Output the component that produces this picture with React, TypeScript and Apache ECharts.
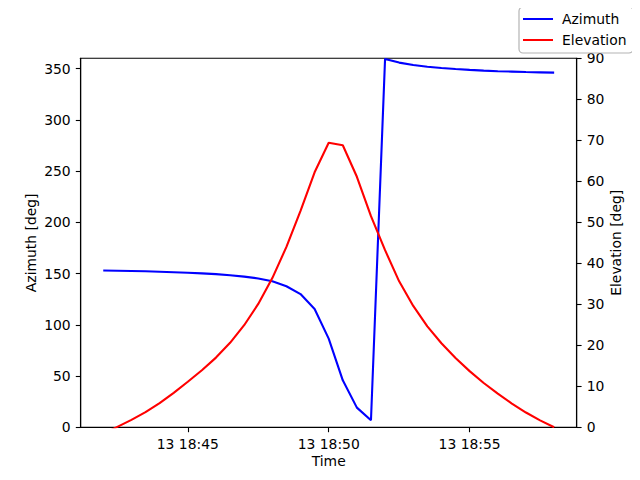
import React, { useEffect, useRef } from 'react';
import * as echarts from 'echarts';

// sample times (day 13), every 30 s
const times = [
  '18:42:00', '18:42:30', '18:43:00', '18:43:30', '18:44:00', '18:44:30',
  '18:45:00', '18:45:30', '18:46:00', '18:46:30', '18:47:00', '18:47:30',
  '18:48:00', '18:48:30', '18:49:00', '18:49:30', '18:50:00', '18:50:30',
  '18:51:00', '18:51:30', '18:52:00', '18:52:30', '18:53:00', '18:53:30',
  '18:54:00', '18:54:30', '18:55:00', '18:55:30', '18:56:00', '18:56:30',
  '18:57:00', '18:57:30', '18:58:00',
];

const azimuth = [
  153.0, 152.8, 152.5, 152.2, 151.8, 151.3,
  150.8, 150.2, 149.4, 148.4, 147.0, 145.2,
  142.5, 137.6, 130.0, 115.4, 86.5, 45.8,
  19.2, 6.8, 359.4, 355.8, 353.5, 351.8,
  350.6, 349.5, 348.7, 348.0, 347.4, 347.0,
  346.6, 346.3, 346.0,
];

const elevation = [
  -1.6, 0.1, 1.8, 3.7, 5.9, 8.4,
  11.1, 13.9, 17.0, 20.6, 24.9, 30.1,
  36.4, 44.0, 52.8, 62.2, 69.4, 68.8,
  61.1, 51.5, 43.2, 35.6, 29.6, 24.6,
  20.5, 16.9, 13.7, 10.8, 8.2, 5.8,
  3.6, 1.7, 0.0,
];

const xTicks = ['18:45', '18:50', '18:55'];
const azTicks = [0, 50, 100, 150, 200, 250, 300, 350];

const FONT = 'DejaVu Sans';
const FS = 13.9;

// clock time -> minutes since midnight
const toMin = (s: string) => {
  const [h, m, sec = '0'] = s.split(':');
  return +h * 60 + +m + +sec / 60;
};

const App: React.FC = () => {
  const chartRef = useRef<HTMLDivElement>(null);

  useEffect(() => {
    if (!chartRef.current) return;
    const chart = echarts.init(chartRef.current, null, { renderer: 'svg' });

    const xs = times.map(toMin);
    const span = xs[xs.length - 1] - xs[0];
    const xMin = xs[0] - span * 0.05;
    const xMax = xs[xs.length - 1] + span * 0.05;
    const tickVals = xTicks.map(toMin);

    const axisLine = { show: true, lineStyle: { color: '#000', width: 1.1 } };
    const axisTick = { show: true, inside: false, length: 4.9, lineStyle: { color: '#000', width: 1.1 } };
    const label = { color: '#000', fontFamily: FONT, fontSize: FS };

    chart.setOption({
      animation: false,
      textStyle: { fontFamily: FONT },
      grid: {
        left: 80.7,
        right: 63.3,
        top: 58.3,
        bottom: 52.7,
        show: true,
        borderColor: '#000',
        borderWidth: 1.1,
        backgroundColor: 'transparent',
      },
      // legend frame, like matplotlib's rounded box
      graphic: [
        {
          type: 'rect',
          z: 1,
          shape: { x: 519, y: 7, width: 114, height: 46, r: 4 },
          style: { fill: '#ffffff', stroke: '#b4b4b4', lineWidth: 1.2 },
        },
      ],
      legend: {
        orient: 'vertical',
        left: 519,
        top: 7,
        padding: [5, 6, 5, 4],
        itemGap: 7,
        itemWidth: 30,
        itemHeight: 2,
        icon: 'rect',
        textStyle: { ...label, padding: [0, 0, 0, 4] },
        data: ['Azimuth', 'Elevation'],
      },
      xAxis: {
        type: 'value',
        min: xMin,
        max: xMax,
        name: 'Time',
        nameLocation: 'middle',
        nameGap: 27,
        nameMoveOverlap: false,
        nameTextStyle: label,
        axisLine,
        axisTick: { ...axisTick, customValues: tickVals },
        axisLabel: {
          ...label,
          margin: 10,
          customValues: tickVals,
          formatter: (v: number) => {
            const i = tickVals.findIndex((t) => Math.abs(t - v) < 1e-6);
            return i >= 0 ? `13 ${xTicks[i]}` : '';
          },
        },
        splitLine: { show: false },
      },
      yAxis: [
        {
          type: 'value',
          min: 0,
          max: 360,
          position: 'left',
          name: 'Azimuth [deg]',
          nameLocation: 'middle',
          nameGap: 43,
          nameMoveOverlap: false,
          nameRotate: 90,
          nameTextStyle: label,
          axisLine,
          axisTick: { ...axisTick, customValues: azTicks },
          axisLabel: { ...label, margin: 10, customValues: azTicks },
          splitLine: { show: false },
        },
        {
          type: 'value',
          min: 0,
          max: 90,
          interval: 10,
          position: 'right',
          name: 'Elevation [deg]',
          nameLocation: 'middle',
          nameGap: 32,
          nameMoveOverlap: false,
          nameRotate: 90,
          nameTextStyle: label,
          axisLine,
          axisTick,
          axisLabel: { ...label, margin: 10 },
          splitLine: { show: false },
        },
      ],
      series: [
        {
          name: 'Azimuth',
          type: 'line',
          yAxisIndex: 0,
          symbol: 'none',
          clip: true,
          lineStyle: { color: '#0000ff', width: 2.1 },
          itemStyle: { color: '#0000ff' },
          data: xs.map((x, i) => [x, azimuth[i]]),
        },
        {
          name: 'Elevation',
          type: 'line',
          yAxisIndex: 1,
          symbol: 'none',
          clip: true,
          lineStyle: { color: '#ff0000', width: 2.1 },
          itemStyle: { color: '#ff0000' },
          data: xs.map((x, i) => [x, elevation[i]]),
        },
      ],
    });

    return () => {
      chart.dispose();
    };
  }, []);

  return <div ref={chartRef} style={{ width: 640, height: 480, margin: -8 }} />;
};

export default App;
